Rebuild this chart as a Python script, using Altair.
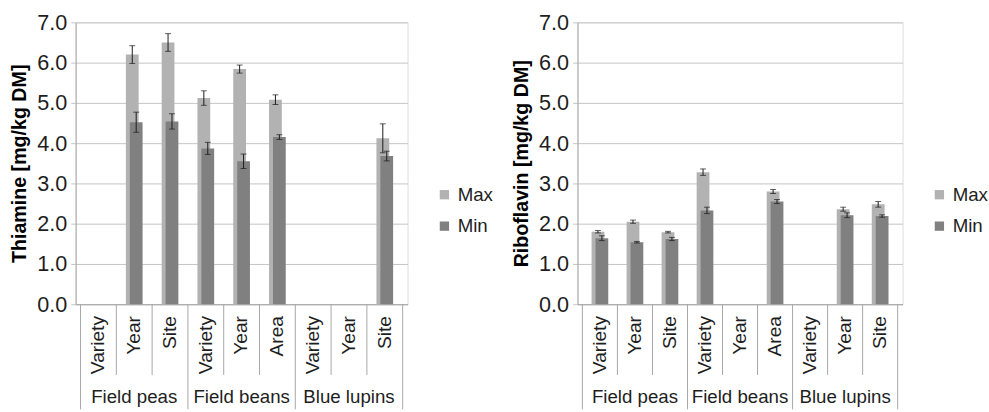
import altair as alt
import pandas as pd

# ---- data ----
categories = ["Variety", "Year", "Site", "Variety", "Year", "Area", "Variety", "Year", "Site"]
groups = ["Field peas", "Field beans", "Blue lupins"]
series_names = ["Max", "Min"]

thiamine_max = [None, 6.20, 6.50, 5.12, 5.84, 5.08, None, None, 4.12]
thiamine_max_err = [None, 0.22, 0.22, 0.18, 0.10, 0.12, None, None, 0.36]
thiamine_min = [None, 4.52, 4.54, 3.87, 3.55, 4.15, None, None, 3.68]
thiamine_min_err = [None, 0.25, 0.19, 0.15, 0.18, 0.06, None, None, 0.12]

riboflavin_max = [1.80, 2.05, 1.79, 3.28, None, 2.80, None, 2.36, 2.48]
riboflavin_max_err = [0.03, 0.04, 0.02, 0.08, None, 0.05, None, 0.05, 0.07]
riboflavin_min = [1.64, 1.54, 1.62, 2.33, None, 2.55, None, 2.21, 2.19]
riboflavin_min_err = [0.06, 0.02, 0.04, 0.08, None, 0.05, None, 0.06, 0.03]

y_ticks = [0, 1, 2, 3, 4, 5, 6, 7]

# ---- styling ----
LIGHT = "#b2b2b2"
DARK = "#808080"
GRID = "#c4c4c4"
AXIS = "#a6a6a6"
ERR = "#1a1a1a"
TXT = "#1e1e1e"
FONT = "Arial"
H = 287
CAT = 19.5
GRP = 19
LEG = 19


def make_panel(title, mx, mx_err, mn, mn_err, W):
    rows = []
    for i in range(len(categories)):
        for s, v, e in (("Max", mx[i], mx_err[i]), ("Min", mn[i], mn_err[i])):
            if v is None:
                continue
            rows.append(dict(pos=i + 0.5, series=s, val=v, lo=v - e, hi=v + e))
    df = pd.DataFrame(rows)

    xs = alt.Scale(domain=[0, len(categories)], nice=False, zero=False)
    ys = alt.Scale(domain=[0, 7], nice=False, zero=True)
    xaxis = alt.Axis(title=None, labels=False, ticks=False, grid=False,
                     domain=True, domainColor=AXIS, domainWidth=1)
    yaxis = alt.Axis(title=title, values=y_ticks, format=".1f", grid=True,
                     gridColor=GRID, gridWidth=1, tickColor=GRID, tickSize=5,
                     domainColor=AXIS, labelFontSize=22, labelPadding=4,
                     labelColor=TXT, labelFont=FONT, titleFont=FONT,
                     titleFontSize=20, titleFontWeight="bold", titleColor="#000",
                     titlePadding=7)

    color = alt.Color("series:N",
                      scale=alt.Scale(domain=series_names, range=[LIGHT, DARK]),
                      legend=alt.Legend(title=None, orient="none", legendX=W + 28,
                                        legendY=166, symbolType="square",
                                        symbolSize=90, symbolStrokeWidth=0,
                                        labelFontSize=LEG, labelFont=FONT,
                                        labelColor=TXT, rowPadding=12,
                                        labelOffset=4, padding=0))

    base = alt.Chart(df)
    offsets = {"Max": -2, "Min": 2}
    bars = []
    errs = []
    for s in series_names:
        sub = base.transform_filter(alt.datum.series == s)
        off = offsets[s]
        bars.append(sub.mark_bar(size=13, xOffset=off, orient="vertical").encode(
            x=alt.X("pos:Q", scale=xs, axis=xaxis),
            y=alt.Y("val:Q", scale=ys, axis=yaxis, stack=None),
            color=color))
        errs.append(sub.mark_rule(xOffset=off, color=ERR, strokeWidth=1).encode(
            x=alt.X("pos:Q", scale=xs, axis=xaxis),
            y=alt.Y("lo:Q", scale=ys, axis=yaxis),
            y2="hi:Q"))
        for f in ("lo", "hi"):
            errs.append(sub.mark_tick(xOffset=off, orient="horizontal", size=6,
                                      thickness=1, color=ERR).encode(
                x=alt.X("pos:Q", scale=xs, axis=xaxis),
                y=alt.Y(f + ":Q", scale=ys, axis=yaxis)))

    # separators below the axis
    bounds = pd.DataFrame({"b": list(range(len(categories) + 1))})
    sep_inner = alt.Chart(bounds).transform_filter("datum.b % 3 != 0").mark_rule(
        color=AXIS, strokeWidth=1).encode(
        x=alt.X("b:Q", scale=xs, axis=xaxis), y=alt.value(H), y2=alt.value(H + 72))
    sep_group = alt.Chart(bounds).transform_filter("datum.b % 3 == 0").mark_rule(
        color=AXIS, strokeWidth=1).encode(
        x=alt.X("b:Q", scale=xs, axis=xaxis), y=alt.value(H), y2=alt.value(H + 107))

    cat_df = pd.DataFrame({"pos": [i + 0.5 for i in range(len(categories))],
                           "label": categories})
    cat_text = alt.Chart(cat_df).mark_text(angle=270, align="right", baseline="middle",
                                           fontSize=CAT, font=FONT, color=TXT).encode(
        x=alt.X("pos:Q", scale=xs, axis=xaxis), y=alt.value(H + 12), text="label:N")

    grp_df = pd.DataFrame({"pos": [3 * g + 1.5 for g in range(len(groups))],
                           "label": groups})
    grp_text = alt.Chart(grp_df).mark_text(align="center", baseline="middle",
                                           fontSize=GRP, font=FONT, color=TXT).encode(
        x=alt.X("pos:Q", scale=xs, axis=xaxis), y=alt.value(H + 95), text="label:N")

    return alt.layer(*bars, *errs, sep_inner, sep_group, cat_text, grp_text).properties(
        width=W, height=H)


left = make_panel("Thiamine [mg/kg DM]", thiamine_max, thiamine_max_err,
                  thiamine_min, thiamine_min_err, 338)
right = make_panel("Riboflavin [mg/kg DM]", riboflavin_max, riboflavin_max_err,
                   riboflavin_min, riboflavin_min_err, 331)

chart = alt.hconcat(left, right, spacing=17).resolve_scale(
    color="independent").properties(
    padding={"left": 9, "top": 7, "right": 0, "bottom": 0}
).configure_view(stroke=None).configure(font=FONT)

chart.save("out.html", embed_options={"renderer": "svg", "actions": False})
